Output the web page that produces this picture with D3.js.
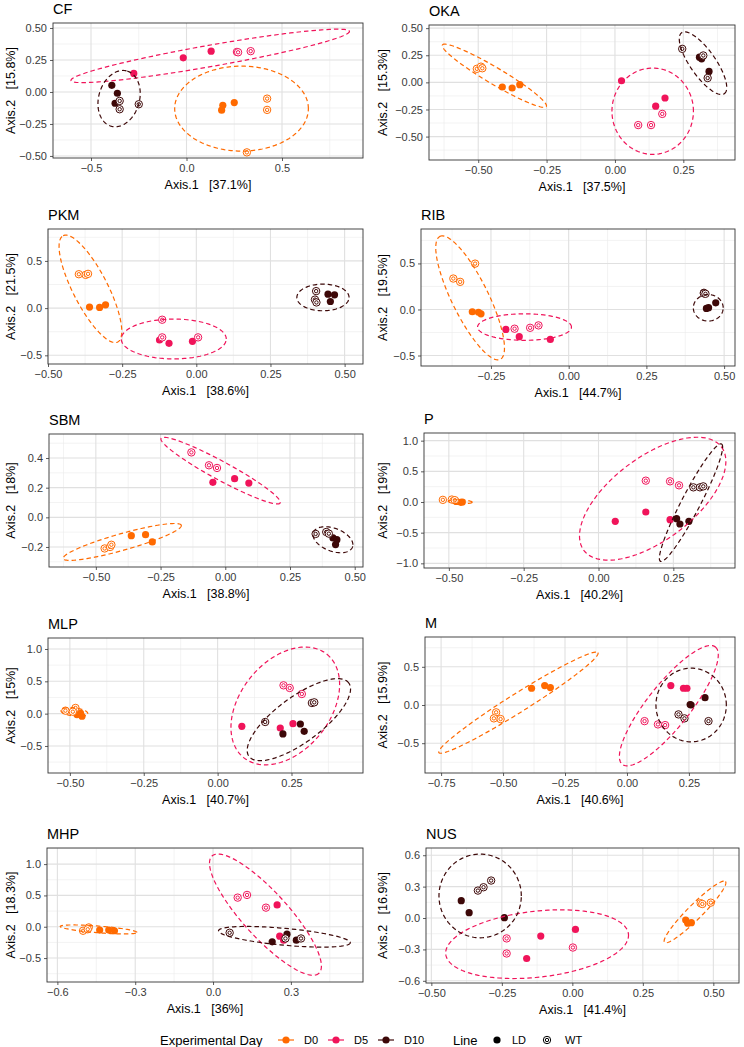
<!DOCTYPE html>
<html><head><meta charset="utf-8">
<script src="https://cdn.jsdelivr.net/npm/d3@7"></script>
<style>
body{margin:0;background:#fff}
svg{display:block}
text{font-family:'Liberation Sans',Arial,Helvetica,sans-serif}
</style>
</head><body><svg id="chart" width="744" height="1047"></svg>
<script>
// ---------- DATA ----------
const panelNames = ["CF","OKA","PKM","RIB","SBM","P","MLP","M","MHP","NUS"];
const axis1Pct = ["37.1%","37.5%","38.6%","44.7%","38.8%","40.2%","40.7%","40.6%","36%","41.4%"];
const axis2Pct = ["15.8%","15.3%","21.5%","19.5%","18%","19%","15%","15.9%","18.3%","16.9%"];
const days = ["D0","D5","D10"];
const lineTypes = ["LD","WT"];
// point order in every panel: D0 LD x3, D0 WT x3, D5 LD x3, D5 WT x3, D10 LD x3, D10 WT x3
const pointDay  = [0,0,0,0,0,0,1,1,1,1,1,1,2,2,2,2,2,2];
const pointLine = [0,0,0,1,1,1,0,0,0,1,1,1,0,0,0,1,1,1];

const CF_x  = [0.190,0.184,0.250, 0.422,0.422,0.316, -0.276,-0.017,0.129, 0.264,0.336,0.270, -0.391,-0.362,-0.374, -0.350,-0.350,-0.250];
const CF_y  = [-0.104,-0.142,-0.083, -0.052,-0.140,-0.472, 0.145,0.267,0.319, 0.313,0.319,0.310, 0.052,-0.010,-0.088, -0.070,-0.135,-0.096];
const OKA_x = [-0.412,-0.376,-0.348, -0.505,-0.490,-0.485, 0.024,0.149,0.183, 0.173,0.132,0.085, 0.309,0.317,0.344, 0.246,0.323,0.339];
const OKA_y = [-0.043,-0.052,-0.021, 0.125,0.145,0.130, 0.015,-0.220,-0.144, -0.291,-0.394,-0.394, 0.232,0.217,0.101, 0.309,0.248,0.040];
const PKM_x = [-0.360,-0.326,-0.306, -0.396,-0.373,-0.365, -0.124,-0.092,-0.013, -0.115,-0.115,0.006, 0.444,0.466,0.452, 0.404,0.400,0.405];
const PKM_y = [0.011,0.007,0.035, 0.359,0.352,0.363, -0.338,-0.373,-0.352, -0.123,-0.310,-0.310, 0.148,0.141,0.070, 0.180,0.090,0.060];
const RIB_x = [-0.310,-0.282,-0.290, -0.301,-0.371,-0.349, -0.202,-0.159,-0.059, -0.174,-0.124,-0.097, 0.443,0.473,0.450, 0.435,0.435,0.440];
const RIB_y = [-0.025,-0.047,-0.030, 0.498,0.336,0.300, -0.217,-0.296,-0.325, -0.209,-0.199,-0.173, 0.011,0.072,0.020, 0.181,0.175,0.170];
const SBM_x = [-0.363,-0.308,-0.282, -0.466,-0.445,-0.440, -0.048,0.036,0.091, -0.131,-0.063,-0.032, 0.416,0.426,0.431, 0.349,0.390,0.400];
const SBM_y = [-0.124,-0.117,-0.166, -0.210,-0.200,-0.185, 0.236,0.261,0.231, 0.438,0.351,0.333, -0.139,-0.184,-0.151, -0.112,-0.099,-0.110];
const P_x   = [-0.475,-0.460,-0.455, -0.520,-0.490,-0.480, 0.056,0.158,0.239, 0.158,0.239,0.269, 0.261,0.272,0.302, 0.317,0.339,0.350];
const P_y   = [0.010,-0.005,0.000, 0.035,0.040,0.030, -0.315,-0.163,-0.288, 0.348,0.337,0.272, -0.272,-0.359,-0.315, 0.239,0.239,0.255];
const MLP_x = [-0.476,-0.464,-0.459, -0.515,-0.481,-0.490, 0.082,0.212,0.255, 0.223,0.244,0.285, 0.221,0.280,0.293, 0.161,0.319,0.327];
const MLP_y = [-0.015,0.010,-0.040, 0.046,0.088,0.030, -0.196,-0.222,-0.155, 0.438,0.397,0.304, -0.314,-0.160,-0.273, -0.129,0.165,0.175];
const M_x   = [-0.385,-0.332,-0.309, -0.528,-0.537,-0.510, 0.177,0.228,0.242, 0.071,0.125,0.154, 0.259,0.315,0.255, 0.208,0.232,0.329];
const M_y   = [0.219,0.254,0.228, -0.096,-0.175,-0.184, 0.254,0.219,0.219, -0.211,-0.254,-0.263, 0.000,0.096,0.005, -0.123,-0.175,-0.211];
const MHP_x = [-0.437,-0.402,-0.380, -0.501,-0.479,-0.483, 0.247,0.257,0.272, 0.095,0.131,0.204, 0.228,0.285,0.321, 0.064,0.279,0.339];
const MHP_y = [-0.053,-0.053,-0.064, -0.064,-0.011,-0.040, 0.348,-0.150,-0.214, 0.465,0.508,0.305, -0.241,-0.118,-0.214, -0.096,-0.187,-0.187];
const NUS_x = [0.402,0.422,0.409, 0.455,0.461,0.491, -0.112,-0.162,0.011, -0.233,-0.233,0.002, -0.394,-0.366,-0.241, -0.335,-0.315,-0.288];
const NUS_y = [-0.019,-0.045,-0.050, 0.141,0.134,0.147, -0.173,-0.387,-0.109, -0.195,-0.339,-0.282, 0.166,0.051,0.003, 0.262,0.294,0.358];

// 95% ellipses per day (D0, D5, D10): [centre x, centre y, semi-axis A (x,y), conjugate semi-axis B (x,y)] in data units
const CF_ell  = [[0.288,-0.130,0.350,0,0,0.332],[0.124,0.282,0.729,0.192,0.0095,-0.082],[-0.353,-0.052,0.043,0.215,0.102,-0.047]];
const OKA_ell = [[-0.441,0.061,-0.190,0.284,0.0156,0.0657],[0.138,-0.266,0.149,0,0,0.398],[0.322,0.177,0.078,-0.281,0.038,0.067]];
const PKM_ell = [[-0.357,0.204,-0.092,0.563,0.052,0.085],[-0.076,-0.327,0.177,0,0,0.211],[0.427,0.113,0.088,0,0,0.141]];
const RIB_ell = [[-0.317,0.126,-0.097,0.668,0.053,0.087],[-0.142,-0.191,0.151,0,0,0.144],[0.449,0.018,0.048,0,0,0.144]];
const SBM_ell = [[-0.398,-0.166,0.228,0.112,0.0088,-0.054],[-0.018,0.315,0.230,-0.218,-0.017,-0.055],[0.416,-0.151,0.077,-0.034,0,0.081]];
const P_ell   = [[-0.462,0.005,0.040,-0.010,0.002,0.030],[0.181,0.054,0.230,0.842,0.083,-0.543],[0.309,-0.011,0.102,0.957,0.0276,-0.0707]];
const MLP_ell = [[-0.485,0.026,0.045,-0.030,0.006,0.060],[0.229,0.119,0.141,0.799,0.118,-0.438],[0.275,-0.093,0.169,0.567,-0.045,0.284]];
const M_ell   = [[-0.438,0.031,0.321,0.654,0.0199,-0.104],[0.169,-0.009,0.188,0.768,0.067,-0.175],[0.259,0.000,0.142,0,0,0.482]];
const MHP_ell = [[-0.441,-0.043,0.148,-0.048,0.001,0.053],[0.202,0.193,0.206,-0.936,-0.064,-0.246],[0.275,-0.160,0.254,-0.096,-0.003,-0.134]];
const NUS_ell = [[0.435,0.058,0.108,0.291,0.018,-0.050],[-0.125,-0.250,0.324,0.096,0.0118,-0.314],[-0.327,0.211,0.146,0,0,0.400]];

// axis limits and tick labels
const xDomains = [[-0.699,0.924],[-0.680,0.439],[-0.500,0.562],[-0.475,0.535],[-0.681,0.532],[-0.583,0.456],[-0.574,0.492],[-0.815,0.436],[-0.640,0.578],[-0.519,0.591]];
const yDomains = [[-0.516,0.539],[-0.716,0.529],[-0.592,0.838],[-0.614,0.874],[-0.335,0.562],[-1.076,1.125],[-0.918,1.170],[-0.890,0.890],[-0.882,1.257],[-0.621,0.669]];
const xTicks = [[-0.5,0,0.5],[-0.5,-0.25,0,0.25],[-0.5,-0.25,0,0.25,0.5],[-0.25,0,0.25,0.5],[-0.5,-0.25,0,0.25,0.5],[-0.5,-0.25,0,0.25],[-0.5,-0.25,0,0.25],[-0.75,-0.5,-0.25,0,0.25],[-0.6,-0.3,0,0.3],[-0.5,-0.25,0,0.25,0.5]];
const yTicks = [[-0.5,-0.25,0,0.25,0.5],[-0.5,-0.25,0,0.25,0.5],[-0.5,0,0.5],[-0.5,0,0.5],[-0.2,0,0.2,0.4],[-1,-0.5,0,0.5,1],[-0.5,0,0.5,1],[-0.5,0,0.5],[-0.5,0,0.5,1],[-0.6,-0.3,0,0.3,0.6]];
const xDigits = [1,2,2,2,2,2,2,2,1,2];
const yDigits = [2,2,1,1,1,1,1,1,1,1];

// ---------- STYLE / LAYOUT ----------
const dayColors = ["#FF6A00","#F0145A","#3D0808"];
const boxes = [ // [left, right, top, bottom]
  [53,363,23,158],[429,735,25,160],
  [48,363,229,364],[421,735,229,366],
  [49,363,434,567],[424,735,433,568],
  [48,363,638,773],[425,735,637,773],
  [47,363,848,982],[426,739,848,983]];
const xs = [CF_x,OKA_x,PKM_x,RIB_x,SBM_x,P_x,MLP_x,M_x,MHP_x,NUS_x];
const ys = [CF_y,OKA_y,PKM_y,RIB_y,SBM_y,P_y,MLP_y,M_y,MHP_y,NUS_y];
const ells = [CF_ell,OKA_ell,PKM_ell,RIB_ell,SBM_ell,P_ell,MLP_ell,M_ell,MHP_ell,NUS_ell];

const svg = d3.select("#chart");
const minus = s => s.replace(/-/g, "\u2212");

function minorBreaks(ticks, dom){
  const step = ticks.length > 1 ? ticks[1]-ticks[0] : 0.5;
  const ext = [ticks[0]-step, ...ticks, ticks[ticks.length-1]+step];
  const out = [];
  for (let i=0;i<ext.length-1;i++){ const m=(ext[i]+ext[i+1])/2; if (m>dom[0] && m<dom[1]) out.push(m); }
  return out;
}

panelNames.forEach((name, p) => {
  const [L,R,T,B] = boxes[p];
  const col = p % 2;
  const x = d3.scaleLinear().domain(xDomains[p]).range([L,R]);
  const y = d3.scaleLinear().domain(yDomains[p]).range([B,T]);
  const g = svg.append("g");

  // background grid
  const grid = g.append("g");
  minorBreaks(xTicks[p], xDomains[p]).forEach(v => grid.append("line").attr("x1",x(v)).attr("x2",x(v)).attr("y1",T).attr("y2",B).attr("stroke","#EBEBEB").attr("stroke-width",0.6));
  minorBreaks(yTicks[p], yDomains[p]).forEach(v => grid.append("line").attr("y1",y(v)).attr("y2",y(v)).attr("x1",L).attr("x2",R).attr("stroke","#EBEBEB").attr("stroke-width",0.6));
  xTicks[p].forEach(v => grid.append("line").attr("x1",x(v)).attr("x2",x(v)).attr("y1",T).attr("y2",B).attr("stroke","#E0E0E0").attr("stroke-width",1.1));
  yTicks[p].forEach(v => grid.append("line").attr("y1",y(v)).attr("y2",y(v)).attr("x1",L).attr("x2",R).attr("stroke","#E0E0E0").attr("stroke-width",1.1));

  // axes
  const fx = d3.format("."+xDigits[p]+"f"), fy = d3.format("."+yDigits[p]+"f");
  const xa = g.append("g").attr("transform",`translate(0,${B})`)
    .call(d3.axisBottom(x).tickValues(xTicks[p]).tickFormat(d=>minus(fx(d))).tickSize(3).tickPadding(3));
  const ya = g.append("g").attr("transform",`translate(${L},0)`)
    .call(d3.axisLeft(y).tickValues(yTicks[p]).tickFormat(d=>minus(fy(d))).tickSize(3).tickPadding(3));
  [xa,ya].forEach(a => {
    a.select(".domain").remove();
    a.selectAll(".tick line").attr("stroke","#333").attr("stroke-width",0.8);
    a.selectAll(".tick text").attr("fill","#3A3A3A").style("font-size","11px").style("font-family","'Liberation Sans',Arial,sans-serif");
  });

  // clip
  const cid = "clip"+p;
  g.append("clipPath").attr("id",cid).append("rect").attr("x",L).attr("y",T).attr("width",R-L).attr("height",B-T);
  const plot = g.append("g").attr("clip-path",`url(#${cid})`);

  // points
  const pts = xs[p].map((vx,i)=>({x:vx,y:ys[p][i],d:pointDay[i],l:pointLine[i]}));
  pts.forEach(pt => {
    const cx = x(pt.x), cy = y(pt.y), c = dayColors[pt.d];
    if (pt.l === 0) {
      plot.append("circle").attr("cx",cx).attr("cy",cy).attr("r",3.6).attr("fill",c);
    } else {
      plot.append("circle").attr("cx",cx).attr("cy",cy).attr("r",3.7).attr("fill","#fff").attr("stroke",c).attr("stroke-width",1);
      plot.append("circle").attr("cx",cx).attr("cy",cy).attr("r",1.7).attr("fill","none").attr("stroke",c).attr("stroke-width",1);
    }
  });

  // ellipses
  const line = d3.line().curve(d3.curveLinearClosed);
  ells[p].forEach((e,d) => {
    const [cx,cy,ax,ay,bx,by] = e;
    const ring = d3.range(0, 2*Math.PI, Math.PI/60).map(t => [x(cx+ax*Math.cos(t)+bx*Math.sin(t)), y(cy+ay*Math.cos(t)+by*Math.sin(t))]);
    plot.append("path").attr("d",line(ring)).attr("fill","none").attr("stroke",dayColors[d]).attr("stroke-width",1.2).attr("stroke-dasharray","4.5,3");
  });

  // border
  g.append("rect").attr("x",L).attr("y",T).attr("width",R-L).attr("height",B-T).attr("fill","none").attr("stroke","#333").attr("stroke-width",0.9);

  // titles
  g.append("text").attr("x",L).attr("y",T-9).text(name).style("font-size","14.5px").attr("fill","#000");
  g.append("text").attr("x",(L+R)/2).attr("y",B+31).attr("text-anchor","middle").style("font-size","12.5px").style("white-space","pre").attr("fill","#000")
    .text("Axis.1   ["+axis1Pct[p]+"]");
  g.append("text").attr("transform",`translate(${col*372+15},${(T+B)/2}) rotate(-90)`).attr("text-anchor","middle").style("font-size","12.5px").style("white-space","pre").attr("fill","#000")
    .text("Axis.2   ["+axis2Pct[p]+"]");
});

// ---------- LEGEND ----------
const lg = svg.append("g");
const ly = 1040;
lg.append("text").attr("x",160).attr("y",ly+4.5).text("Experimental Day").style("font-size","13px");
const dayKeyX = [286,336,386];
days.forEach((d,i) => {
  lg.append("line").attr("x1",dayKeyX[i]-8).attr("x2",dayKeyX[i]+8).attr("y1",ly).attr("y2",ly).attr("stroke",dayColors[i]).attr("stroke-width",1.2);
  lg.append("circle").attr("cx",dayKeyX[i]).attr("cy",ly).attr("r",3.6).attr("fill",dayColors[i]);
  lg.append("text").attr("x",dayKeyX[i]+18).attr("y",ly+4).text(d).style("font-size","11px");
});
lg.append("text").attr("x",453).attr("y",ly+4.5).text("Line").style("font-size","13px");
lg.append("circle").attr("cx",497).attr("cy",ly).attr("r",3.6).attr("fill","#000");
lg.append("text").attr("x",512).attr("y",ly+4).text(lineTypes[0]).style("font-size","11px");
lg.append("circle").attr("cx",547).attr("cy",ly).attr("r",3.7).attr("fill","#fff").attr("stroke","#000").attr("stroke-width",1);
lg.append("circle").attr("cx",547).attr("cy",ly).attr("r",1.7).attr("fill","none").attr("stroke","#000").attr("stroke-width",1);
lg.append("text").attr("x",565).attr("y",ly+4).text(lineTypes[1]).style("font-size","11px");
</script>
</body></html>
